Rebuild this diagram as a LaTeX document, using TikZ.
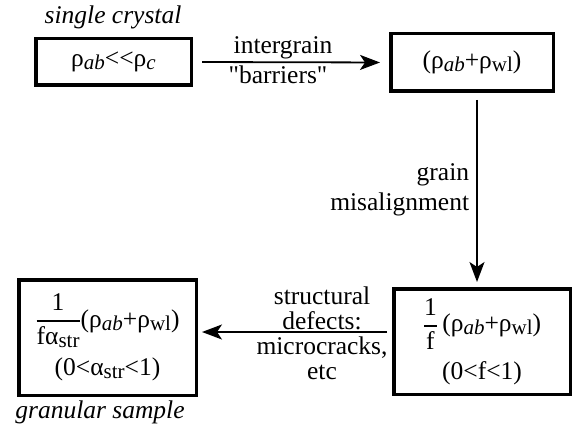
\documentclass[tikz,border=0pt]{standalone}
\usepackage{fontspec}
\usepackage{amsmath}
\defaultfontfeatures{Ligatures=TeXOff}
\setmainfont{Liberation Serif}[Ligatures=TeXOff]
\usetikzlibrary{arrows.meta}
\newcommand{\subtx}[1]{\raisebox{-3pt}{\fontsize{21}{21}\selectfont #1}}
\newcommand{\frc}[2]{$\genfrac{}{}{1.6pt}{0}{\hbox{#1}}{\hbox{#2}}$}
\begin{document}
\begin{tikzpicture}[x=1pt,y=1pt,>={Stealth[length=20pt,width=15pt,inset=5pt]},
	every node/.style={font=\fontsize{25.5}{25}\selectfont},
	box/.style={draw,line width=3.5pt,align=center,inner sep=0pt},
	lbl/.style={align=center,inner sep=1pt},
	arr/.style={->,line width=1.8pt}]
	\useasboundingbox (0,0) rectangle (577,426);
	\node[lbl] (single) at (113,409) {\itshape single crystal};
	\node[box,minimum width=155.5pt,minimum height=46.5pt] (crystal) at (113.5,364) {ρ\subtx{\textit{ab}}<<ρ\subtx{\textit{c}}};
	\node[box,minimum width=162.5pt,minimum height=57.5pt] (wlbox) at (472,363.5) {(ρ\subtx{\textit{ab}}+ρ\subtx{wl})};
	\node[box,minimum width=176.5pt,minimum height=105.5pt] (fbox) at (482,84.5) {\frc{1}{f}\,(ρ\subtx{\textit{ab}}+ρ\subtx{wl})\\[11pt](0<f<1)};
	\node[box,minimum width=177.5pt,minimum height=115.5pt] (grbox) at (107.5,88.5) {\frc{1}{fα\subtx{str}}(ρ\subtx{\textit{ab}}+ρ\subtx{wl})\\[9pt](0<α\subtx{str}<1)};
	\node[lbl] (granular) at (100,14) {\itshape granular sample};
	\draw[arr,shorten <=9pt,shorten >=9pt] (crystal.east) -- (wlbox.west)
		node[midway,above=1pt,xshift=-8pt,lbl] {intergrain}
		node[midway,below=2pt,xshift=-13pt,lbl] {"barriers"};
	\draw[arr,shorten <=7pt,shorten >=5pt] ([xshift=5pt]wlbox.south) -- ([xshift=-5pt]fbox.north)
		node[midway,left=6pt,lbl,align=right] {grain\\[5pt]misalignment};
	\draw[arr,shorten <=5pt,shorten >=4pt] ([yshift=9.5pt]fbox.west) -- ([yshift=5.5pt]grbox.east);
	\node[lbl] (defects) at (322,93) {structural\\defects:\\microcracks,\\etc};
\end{tikzpicture}
\end{document}
